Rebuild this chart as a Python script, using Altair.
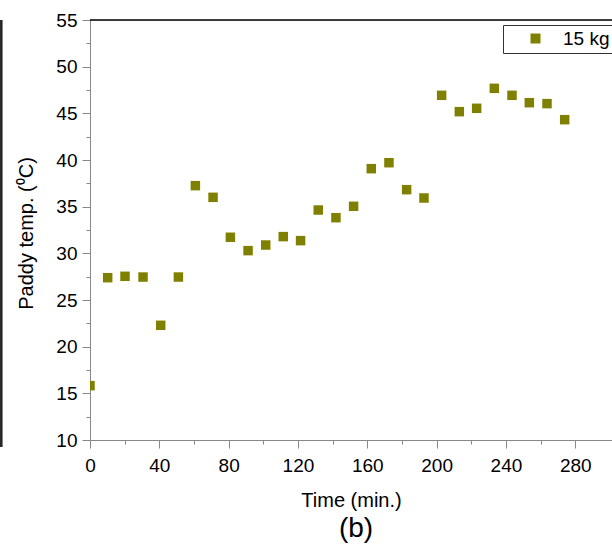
import altair as alt
import pandas as pd

# Data
time_min = [0, 10.2, 20.2, 30.6, 40.8, 51.0, 60.8, 71.0, 81.0, 91.2, 101.4, 111.5,
            121.5, 131.7, 141.9, 152.1, 162.3, 172.5, 182.7, 192.7, 202.9, 213.1,
            223.1, 233.3, 243.5, 253.5, 263.7, 273.9]
paddy_temp = [15.82, 27.39, 27.54, 27.46, 22.29, 27.46, 37.25, 36.0, 31.72, 30.29,
              30.89, 31.79, 31.36, 34.64, 33.82, 35.04, 39.07, 39.71, 36.82, 35.93,
              46.93, 45.18, 45.54, 47.68, 46.93, 46.14, 46.04, 44.32]
series_name = "15 kg"
x_ticks = [0, 20, 40, 60, 80, 100, 120, 140, 160, 180, 200, 220, 240, 260, 280]
y_ticks = [10, 12.5, 15, 17.5, 20, 22.5, 25, 27.5, 30, 32.5, 35, 37.5, 40, 42.5,
           45, 47.5, 50, 52.5, 55]

df = pd.DataFrame({"Time": time_min, "Temp": paddy_temp,
                   "Series": [series_name] * len(time_min)})

FONT = "Liberation Sans"
W, H = 522, 420

points = alt.Chart(df).mark_point(
    shape="square", filled=True, size=90, opacity=1, clip=True
).encode(
    x=alt.X("Time:Q",
            scale=alt.Scale(domain=[0, 301.2], nice=False, zero=False),
            axis=alt.Axis(
                title="Time (min.)", values=x_ticks, grid=False,
                labelExpr="datum.value % 40 === 0 ? datum.label : ''",
                tickSize={"condition": {"test": "datum.value % 40 === 0", "value": 8}, "value": 4},
                labelFontSize=19, labelPadding=8, titleFontSize=20,
                titleFontWeight="normal", titleX=261, titleY=66,
                titleBaseline="alphabetic", labelFlush=False, labelOverlap=False,
            )),
    y=alt.Y("Temp:Q",
            scale=alt.Scale(domain=[10, 55], nice=False, zero=False),
            axis=alt.Axis(
                title="Paddy temp. (⁰C)", values=y_ticks, grid=False,
                labelExpr="datum.value % 5 === 0 ? datum.label : ''",
                tickSize={"condition": {"test": "datum.value % 5 === 0", "value": 8}, "value": 4},
                labelFontSize=19, labelPadding=5, titleFontSize=20,
                titleFontWeight="normal", titleAngle=-90, titleX=-54, titleY=213,
                titleBaseline="bottom", titleAlign="center",
                labelFlush=False, labelOverlap=False,
            )),
    color=alt.Color("Series:N",
                    scale=alt.Scale(domain=[series_name], range=["#808000"]),
                    legend=alt.Legend(
                        title=None, orient="none", legendX=413, legendY=5,
                        strokeColor="#333333", fillColor="white", padding=4,
                        symbolType="square", symbolSize=100, symbolOffset=19,
                        labelFontSize=19, labelFont=FONT, labelColor="black",
                        labelOffset=18, symbolStrokeWidth=0,
                    )),
)

top_line = alt.Chart(alt.Data(values=[{}])).mark_rule(
    color="black", strokeWidth=1.5
).encode(x=alt.value(0), x2=alt.value(W), y=alt.value(0))

left_fragment = alt.Chart(alt.Data(values=[{}])).mark_rule(
    color="#222222", strokeWidth=2.5
).encode(x=alt.value(-88.7), y=alt.value(0), y2=alt.value(427))

chart = alt.layer(points, top_line, left_fragment).properties(
    width=W, height=H,
    autosize=alt.AutoSizeParams(type="none"),
    padding={"left": 90, "top": 20, "right": 0, "bottom": 104},
    title=alt.TitleParams("(b)", orient="bottom", anchor="middle", fontSize=28,
                          font=FONT, fontWeight="normal", color="black",
                          offset=5, dx=5),
).configure_view(stroke=None).configure_axis(
    domainColor="black", domainWidth=1.5, tickColor="black", tickWidth=1.5,
    labelColor="black", titleColor="black", labelFont=FONT, titleFont=FONT,
    grid=False,
).configure(background="white")

chart.save("out.html", embed_options={"renderer": "svg", "actions": False})
